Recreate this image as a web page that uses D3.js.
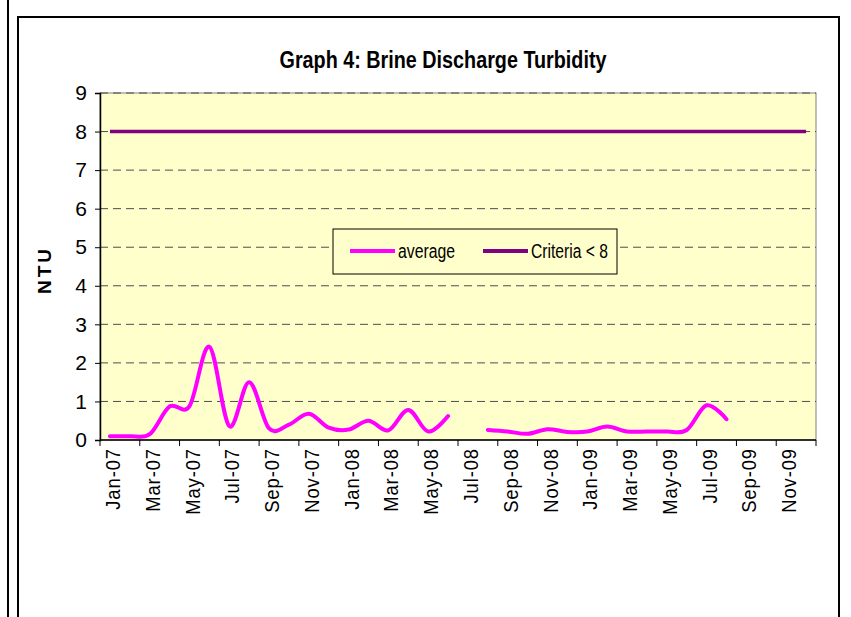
<!DOCTYPE html>
<html>
<head>
<meta charset="utf-8">
<script src="https://cdn.jsdelivr.net/npm/d3@7"></script>
<style>
  body { margin: 0; background: #fff; }
  svg text { font-family: "Liberation Sans", Arial, sans-serif; fill: #000; }
</style>
</head>
<body>
<div id="chartBox"></div>
<script>
// monthly categories on the date axis
var months = ['Jan-07','Feb-07','Mar-07','Apr-07','May-07','Jun-07','Jul-07','Aug-07','Sep-07','Oct-07','Nov-07','Dec-07',
              'Jan-08','Feb-08','Mar-08','Apr-08','May-08','Jun-08','Jul-08','Aug-08','Sep-08','Oct-08','Nov-08','Dec-08',
              'Jan-09','Feb-09','Mar-09','Apr-09','May-09','Jun-09','Jul-09','Aug-09','Sep-09','Oct-09','Nov-09','Dec-09'];
// average turbidity (NTU), Jul-08 missing
var average = [0.1, 0.1, 0.15, 0.87, 0.88, 2.42, 0.36, 1.5, 0.3, 0.4, 0.68, 0.32,
               0.27, 0.5, 0.25, 0.78, 0.22, 0.62, null, 0.26, 0.22, 0.16, 0.28, 0.21,
               0.22, 0.35, 0.22, 0.22, 0.22, 0.26, 0.9, 0.54];
var criteria = [8, 8, 8, 8, 8, 8, 8, 8, 8, 8, 8, 8,
                8, 8, 8, 8, 8, 8, 8, 8, 8, 8, 8, 8,
                8, 8, 8, 8, 8, 8, 8, 8, 8, 8, 8, 8];
var tickLabels = ['Jan-07','Mar-07','May-07','Jul-07','Sep-07','Nov-07','Jan-08','Mar-08','May-08',
                  'Jul-08','Sep-08','Nov-08','Jan-09','Mar-09','May-09','Jul-09','Sep-09','Nov-09'];
var yTicks = [0, 1, 2, 3, 4, 5, 6, 7, 8, 9];

var W = 851, H = 617;
var plot = {left: 100, right: 816, top: 93, bottom: 440};

var svg = d3.select('#chartBox').append('svg')
    .attr('width', W)
    .attr('height', H);

// page frame lines
svg.append('line')
    .attr('x1', 8).attr('x2', 8).attr('y1', 0).attr('y2', H)
    .attr('stroke', '#000').attr('stroke-width', 2);
svg.append('rect')
    .attr('x', 18).attr('y', 17)
    .attr('width', 821).attr('height', H)
    .attr('fill', 'none')
    .attr('stroke', '#000').attr('stroke-width', 2);

var x = d3.scaleBand()
    .domain(months)
    .range([plot.left, plot.right]);
var y = d3.scaleLinear()
    .domain([0, 9])
    .range([plot.bottom, plot.top]);

// plot area
svg.append('rect')
    .attr('x', plot.left).attr('y', plot.top)
    .attr('width', plot.right - plot.left)
    .attr('height', plot.bottom - plot.top)
    .attr('fill', '#ffffcc')
    .attr('stroke', '#808080')
    .attr('stroke-width', 1);

// dashed gridlines
svg.append('g')
    .selectAll('line')
    .data(yTicks.filter(function(d) { return d > 0; }))
    .enter()
    .append('line')
    .attr('x1', plot.left).attr('x2', plot.right)
    .attr('y1', function(d) { return y(d); })
    .attr('y2', function(d) { return y(d); })
    .attr('stroke', '#4d4d4d')
    .attr('stroke-width', 1)
    .attr('stroke-dasharray', '8,5');

// y axis
var yAxis = svg.append('g')
    .attr('transform', 'translate(' + plot.left + ',0)')
    .call(d3.axisLeft(y).tickValues(yTicks).tickSize(5).tickPadding(8).tickFormat(d3.format('d')));
yAxis.select('.domain').attr('stroke', '#000').attr('stroke-width', 1.5);
yAxis.selectAll('.tick line').attr('stroke', '#000');
yAxis.selectAll('.tick text')
    .style('font-size', '21px')
    .attr('fill', '#000');

// x axis: ticks every two months on the band edges
var tickPos = tickLabels.map(function(m) { return x(m); }).concat([plot.right]);
var xAxis = svg.append('g');
xAxis.append('line')
    .attr('x1', plot.left).attr('x2', plot.right)
    .attr('y1', plot.bottom).attr('y2', plot.bottom)
    .attr('stroke', '#000').attr('stroke-width', 1.5);
xAxis.selectAll('line.tk')
    .data(tickPos)
    .enter()
    .append('line')
    .attr('class', 'tk')
    .attr('x1', function(d) { return d; })
    .attr('x2', function(d) { return d; })
    .attr('y1', plot.bottom).attr('y2', plot.bottom + 6)
    .attr('stroke', '#000');
xAxis.selectAll('text')
    .data(tickLabels)
    .enter()
    .append('text')
    .text(function(d) { return d; })
    .attr('transform', function(d) {
        return 'translate(' + (x(d) + x.bandwidth() / 2 + 3) + ',' + (plot.bottom + 8) + ') rotate(-90) scale(0.92,1)';
    })
    .attr('text-anchor', 'end')
    .attr('dy', '0.35em')
    .style('font-size', '20px')
    .style('letter-spacing', '1px');

// series
var line = d3.line()
    .defined(function(d) { return d != null; })
    .x(function(d, i) { return x(months[i]) + x.bandwidth() / 2; })
    .y(function(d) { return y(d); })
    .curve(d3.curveCardinal.tension(0));

svg.append('path')
    .datum(criteria)
    .attr('d', line)
    .attr('fill', 'none')
    .attr('stroke', '#800080')
    .attr('stroke-width', 3.5);

svg.append('path')
    .datum(average)
    .attr('d', line)
    .attr('fill', 'none')
    .attr('stroke', '#ff00ff')
    .attr('stroke-width', 4)
    .attr('stroke-linejoin', 'round')
    .attr('stroke-linecap', 'round');

// title
svg.append('text')
    .text('Graph 4: Brine Discharge Turbidity')
    .attr('x', 443).attr('y', 68)
    .attr('text-anchor', 'middle')
    .attr('textLength', 327)
    .attr('lengthAdjust', 'spacingAndGlyphs')
    .style('font-size', '23px')
    .style('font-weight', 'bold');

// y title
svg.append('text')
    .text('NTU')
    .attr('transform', 'translate(51,270) rotate(-90)')
    .attr('text-anchor', 'middle')
    .style('font-size', '19px')
    .style('font-weight', 'bold')
    .style('letter-spacing', '3px');

// legend
var legend = svg.append('g').attr('transform', 'translate(333,229)');
legend.append('rect')
    .attr('width', 284).attr('height', 45)
    .attr('fill', '#ffffcc')
    .attr('stroke', '#000').attr('stroke-width', 1);
var items = [{name: 'average', color: '#ff00ff', x: 17, w: 57}, {name: 'Criteria < 8', color: '#800080', x: 150, w: 77}];
var it = legend.selectAll('g.item')
    .data(items)
    .enter()
    .append('g')
    .attr('transform', function(d) { return 'translate(' + d.x + ',22)'; });
it.append('line')
    .attr('x1', 0).attr('x2', 45)
    .attr('stroke', function(d) { return d.color; })
    .attr('stroke-width', 4);
it.append('text')
    .text(function(d) { return d.name; })
    .attr('x', 48)
    .attr('dy', '0.35em')
    .attr('textLength', function(d) { return d.w; })
    .attr('lengthAdjust', 'spacingAndGlyphs')
    .style('font-size', '20px');
</script>
</body>
</html>
